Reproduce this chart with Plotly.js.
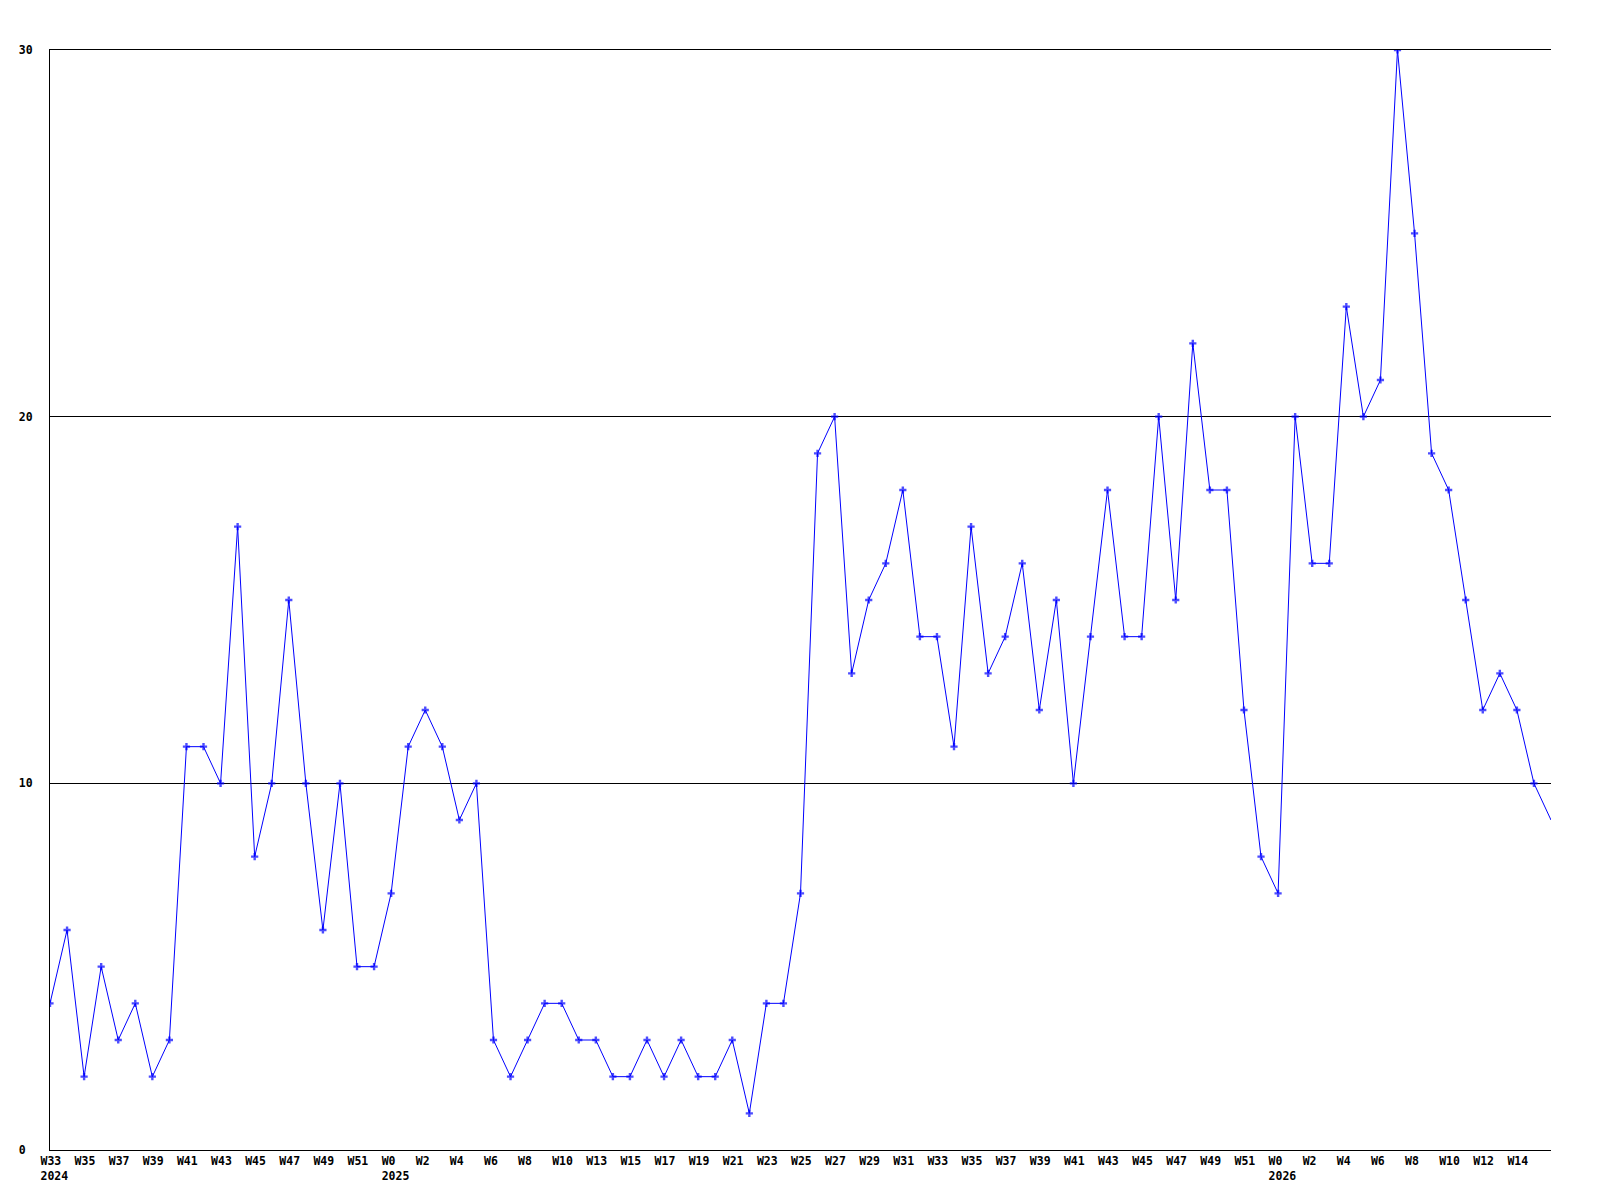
<!DOCTYPE html>
<html>
<head>
<meta charset="utf-8">
<script src="https://cdn.plot.ly/plotly-3.0.1.min.js"></script>
<style>
html,body{margin:0;padding:0;background:#fff;}
#chart{width:1600px;height:1200px;}
</style>
</head>
<body>
<div id="chart"></div>
<script>
// Weekly counts, from W33 2024 onward (one value per week)
var counts = [4, 6, 2, 5, 3, 4, 2, 3, 11, 11, 10, 17, 8, 10, 15, 10, 6, 10, 5, 5,
              7, 11, 12, 11, 9, 10, 3, 2, 3, 4, 4, 3, 3, 2, 2, 3, 2, 3, 2, 2,
              3, 1, 4, 4, 7, 19, 20, 13, 15, 16, 18, 14, 14, 11, 17, 13, 14, 16, 12, 15,
              10, 14, 18, 14, 14, 20, 15, 22, 18, 18, 12, 8, 7, 20, 16, 16, 23, 20, 21, 30,
              25, 19, 18, 15, 12, 13, 12, 10, 9];

// Tick labels shown under every second week
var tickLabels = ["W33", "W35", "W37", "W39", "W41", "W43", "W45", "W47", "W49", "W51",
                  "W0", "W2", "W4", "W6", "W8", "W10", "W13", "W15", "W17", "W19",
                  "W21", "W23", "W25", "W27", "W29", "W31", "W33", "W35", "W37", "W39",
                  "W41", "W43", "W45", "W47", "W49", "W51", "W0", "W2", "W4", "W6",
                  "W8", "W10", "W12", "W14"];
var tickYears = ["2024", "", "", "", "", "", "", "", "", "",
                 "2025", "", "", "", "", "", "", "", "", "",
                 "", "", "", "", "", "", "", "", "", "",
                 "", "", "", "", "", "", "2026", "", "", "",
                 "", "", "", ""];

var yTickVals = [0, 10, 20, 30];
var yTickText = ["0\u00A0", "10", "20", "30"];

var xIdx = counts.map(function (_, i) { return i; });
var tickVals = tickLabels.map(function (_, i) { return i * 2; });
var tickText = tickLabels.map(function (t, i) { return tickYears[i] ? t + "<br>" + tickYears[i] : t; });
var markerSizes = counts.map(function (_, i) { return i === counts.length - 1 ? 0 : 6; });

var font = {family: "DejaVu Sans Mono, Liberation Mono, monospace", size: 11.5, color: "#000", weight: "bold"};

var trace = {
  x: xIdx,
  y: counts,
  type: "scatter",
  mode: "lines+markers",
  line: {color: "#0000ff", width: 1},
  marker: {symbol: "cross", size: markerSizes, color: "#0000ff", line: {width: 0}},
  cliponaxis: true,
  hoverinfo: "skip"
};

var layout = {
  width: 1600,
  height: 1200,
  margin: {l: 50, r: 49, t: 50, b: 50, pad: 0},
  paper_bgcolor: "#ffffff",
  plot_bgcolor: "#ffffff",
  showlegend: false,
  font: font,
  xaxis: {
    range: [0, counts.length - 1],
    tickmode: "array",
    tickvals: tickVals,
    ticktext: tickText,
    ticks: "",
    showgrid: false,
    zeroline: false,
    showline: true,
    mirror: true,
    linecolor: "#000",
    linewidth: 1,
    tickangle: 0,
    ticklabelposition: "outside right",
    ticklabelshift: -10,
    ticklabelstandoff: 0,
    tickfont: font
  },
  yaxis: {
    range: [0, 30],
    tickmode: "array",
    tickvals: yTickVals,
    ticktext: yTickText,
    ticks: "",
    showgrid: true,
    gridcolor: "#000",
    gridwidth: 1,
    zeroline: false,
    showline: true,
    linecolor: "#000",
    linewidth: 1,
    ticklabelstandoff: 14,
    tickfont: font
  }
};

Plotly.newPlot("chart", [trace], layout, {staticPlot: true, displayModeBar: false});
</script>
</body>
</html>
